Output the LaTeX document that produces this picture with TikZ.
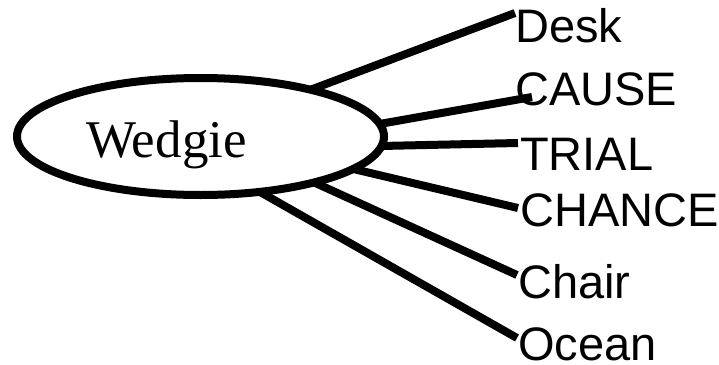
\documentclass[tikz,border=0pt]{standalone}
\usepackage{fontspec}
\setmainfont{Liberation Serif}
\newfontfamily\wordfont{Liberation Sans}
\usetikzlibrary{shapes.geometric}

\begin{document}
\begin{tikzpicture}[x=1pt,y=-1pt,
    hub/.style={draw, ellipse, line width=8pt, minimum width=367pt, minimum height=117pt, inner sep=0pt, outer sep=0pt},
    word/.style={anchor=base west, inner sep=0pt, font=\wordfont\fontsize{47}{47}\selectfont},
    spoke/.style={line width=8pt}]
  \useasboundingbox (0,0) rectangle (719,364);
  % centre word
  \node[hub] (wedgie) at (200.5,136.5) {};
  \node[anchor=base west, inner sep=0pt, font=\fontsize{53}{53}\selectfont] (wedgietext) at (86,157) {Wedgie};
  % associated words
  \node[word] (desk) at (515,42) {Desk};
  \node[word] (cause) at (515,105) {CAUSE};
  \node[word] (trial) at (520,170) {TRIAL};
  \node[word] (chance) at (520,226) {CHANCE};
  \node[word] (chair) at (518,298) {Chair};
  \node[word] (ocean) at (518,360) {Ocean};
  % spokes
  \draw[spoke] (wedgie.23.8) -- ([shift={(0pt,29pt)}]desk.base west);
  \draw[spoke] (wedgie.4.2) -- ([shift={(17pt,8pt)}]cause.base west);
  \draw[spoke] (wedgie.-3.6) -- ([shift={(-2pt,27pt)}]trial.base west);
  \draw[spoke] (wedgie.-12) -- ([shift={(-2pt,18pt)}]chance.base west);
  \draw[spoke] (wedgie.-22.6) -- ([shift={(-1pt,23pt)}]chair.base west);
  \draw[spoke] (wedgie.-43) -- ([shift={(-1pt,22pt)}]ocean.base west);
\end{tikzpicture}
\end{document}
